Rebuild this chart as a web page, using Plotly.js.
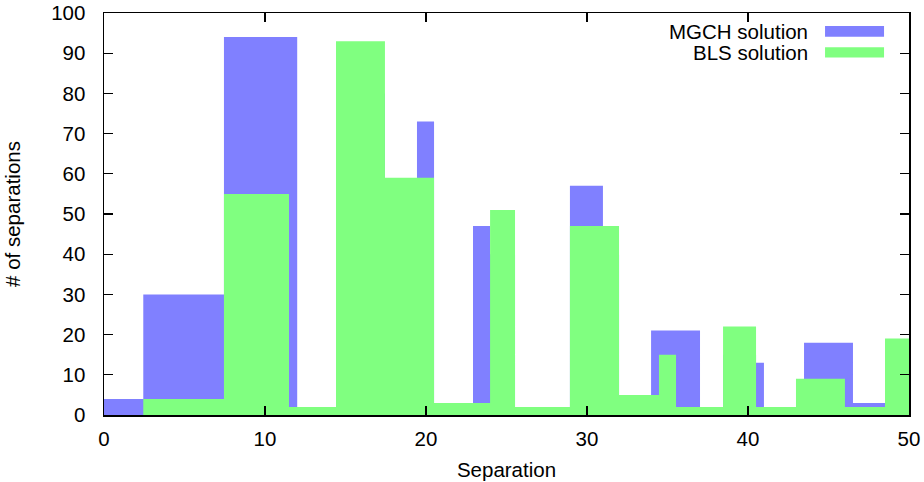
<!DOCTYPE html>
<html>
<head>
<meta charset="utf-8">
<script src="https://cdn.plot.ly/plotly-3.0.1.min.js"></script>
<style>html,body{margin:0;padding:0;background:#fff;}#chart{width:924px;height:482px;}</style>
</head>
<body>
<div id="chart"></div>
<script>
// Step edges (left edge of each step) and step heights
const mgchEdges = [0, 2.44, 7.45, 12.0, 14.41, 17.45, 19.44, 20.5, 22.92, 23.98, 25.53, 28.94, 30.99, 31.99, 33.98, 37.02, 38.45, 40.5, 40.99, 43.48, 46.52, 48.51, 50];
const mgchCounts = [4, 30, 94, 2, 80, 50, 73, 3, 47, 40, 2, 57, 40, 5, 21, 2, 15, 13, 2, 18, 3, 10, 10];
const blsEdges = [0, 2.44, 7.45, 11.49, 14.41, 17.45, 20.5, 23.98, 25.53, 28.94, 31.99, 34.47, 35.53, 38.45, 40.5, 42.98, 46.02, 48.51, 50];
const blsCounts = [0, 4, 55, 2, 93, 59, 3, 51, 2, 47, 5, 15, 2, 22, 2, 9, 2, 19, 19];
const seriesNames = ["MGCH solution", "BLS solution"];
const seriesColors = ["#8080ff", "#80ff80"];

const font = "Liberation Sans, Arial, Helvetica, sans-serif";
const fs = 20.5;

const traces = [
  {x: mgchEdges, y: mgchCounts, name: seriesNames[0], type: "scatter", mode: "lines",
   line: {shape: "hv", width: 0, color: seriesColors[0]}, fill: "tozeroy", fillcolor: seriesColors[0], showlegend: false},
  {x: blsEdges, y: blsCounts, name: seriesNames[1], type: "scatter", mode: "lines",
   line: {shape: "hv", width: 0, color: seriesColors[1]}, fill: "tozeroy", fillcolor: seriesColors[1], showlegend: false}
];

const legX0 = 0.8957, legX1 = 0.969;
const layout = {
  width: 924, height: 482,
  margin: {l: 104, r: 15, t: 13, b: 66.5},
  paper_bgcolor: "#fff", plot_bgcolor: "#fff",
  font: {family: font, size: fs, color: "#000"},
  showlegend: false,
  xaxis: {
    range: [0, 50], dtick: 10, tick0: 0, ticks: "inside", ticklen: 9, tickwidth: 1.3, tickcolor: "#000",
    showline: true, linecolor: "#000", linewidth: 1.5, mirror: "ticks", showgrid: false, zeroline: false,
    ticklabelstandoff: 5,
    title: {text: "Separation", font: {size: fs}, standoff: 13}
  },
  yaxis: {
    range: [0, 100], dtick: 10, tick0: 0, ticks: "inside", ticklen: 9, tickwidth: 1.3, tickcolor: "#000",
    showline: true, linecolor: "#000", linewidth: 1.5, mirror: "ticks", showgrid: false, zeroline: false,
    ticklabelstandoff: 13,
    title: {text: "# of separations", font: {size: fs}, standoff: 25}
  },
  shapes: [
    {type: "rect", xref: "paper", yref: "paper", x0: legX0, x1: legX1, y0: 0.9411, y1: 0.9677, fillcolor: seriesColors[0], line: {width: 0}},
    {type: "rect", xref: "paper", yref: "paper", x0: legX0, x1: legX1, y0: 0.889, y1: 0.9148, fillcolor: seriesColors[1], line: {width: 0}}
  ],
  annotations: [
    {text: seriesNames[0], xref: "paper", yref: "paper", x: 0.877, y: 0.9535, xanchor: "right", yanchor: "middle", showarrow: false, font: {size: fs}},
    {text: seriesNames[1], xref: "paper", yref: "paper", x: 0.877, y: 0.9014, xanchor: "right", yanchor: "middle", showarrow: false, font: {size: fs}}
  ]
};

Plotly.newPlot("chart", traces, layout, {displayModeBar: false, staticPlot: true});
</script>
</body>
</html>
